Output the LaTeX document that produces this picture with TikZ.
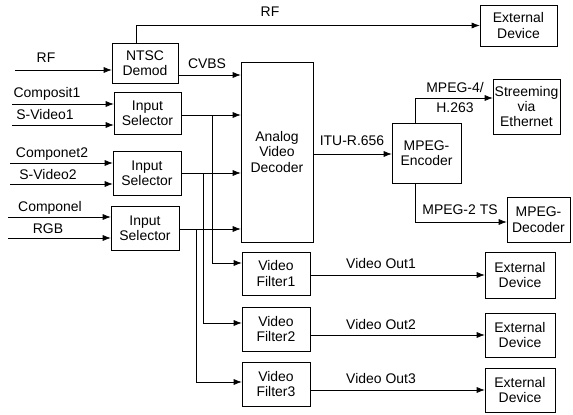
\documentclass[tikz,border=0pt]{standalone}
\usepackage{fontspec}
\setmainfont{Liberation Sans}
\usetikzlibrary{arrows.meta}

\begin{document}
\begin{tikzpicture}[x=1bp,y=-1bp,font=\fontsize{14}{15.5}\selectfont,
  line width=0.6pt,>={Latex[length=8bp,width=6bp]}]
\useasboundingbox (0,0) rectangle (573,414);
  \begin{scope}[every node/.style={draw, align=center, inner sep=1pt}]
  \node[minimum width=66bp, minimum height=40bp] (ntsc) at (145,63) {NTSC\\Demod};
  \node[minimum width=67bp, minimum height=42bp] (sel1) at (147.5,113) {Input\\Selector};
  \node[minimum width=68bp, minimum height=44bp] (sel2) at (147,173) {Input\\Selector};
  \node[minimum width=68bp, minimum height=44bp] (sel3) at (145,228) {Input\\Selector};
  \node[minimum width=72bp, minimum height=180bp] (dec) at (277,152) {Analog\\Video\\Decoder};
  \node[minimum width=68bp, minimum height=43bp] (filt1) at (276,273.5) {Video\\Filter1};
  \node[minimum width=68bp, minimum height=44bp] (filt2) at (276,329) {Video\\Filter2};
  \node[minimum width=68bp, minimum height=44bp] (filt3) at (276,384) {Video\\Filter3};
  \node[minimum width=77bp, minimum height=41bp] (ext0) at (518.5,25.5) {External\\Device};
  \node[minimum width=67bp, minimum height=55bp] (stream) at (526.5,106.5) {Streeming\\via\\Ethernet};
  \node[minimum width=69bp, minimum height=60bp] (enc) at (426.5,153) {MPEG-\\Encoder};
  \node[minimum width=63bp, minimum height=45bp] (mdec) at (538.5,219.5) {MPEG-\\Decoder};
  \node[minimum width=70bp, minimum height=46bp] (ext1) at (520,275) {External\\Device};
  \node[minimum width=70bp, minimum height=44bp] (ext2) at (520,335) {External\\Device};
  \node[minimum width=70bp, minimum height=44bp] (ext3) at (520,390) {External\\Device};
 \end{scope}
 \begin{scope}[every node/.style={inner sep=0pt}]
  \node (lrfin) at (46,58) {RF};
  \node (lrfout) at (270,12) {RF};
  \node (lcvbs) at (207,64) {CVBS};
  \node (lcomp1) at (47,94) {Composit1};
  \node (lsv1) at (45,115) {S-Video1};
  \node (lcomp2) at (52,154) {Componet2};
  \node (lsv2) at (48,175) {S-Video2};
  \node (lcomp3) at (50,208) {Componel};
  \node (lrgb) at (48,229) {RGB};
  \node (litu) at (352,141) {ITU-R.656};
  \node (lmp4) at (455,88) {MPEG-4/};
  \node (lh263) at (455,108) {H.263};
  \node (lmp2) at (460,210) {MPEG-2 TS};
  \node (lout1) at (381,264) {Video Out1};
  \node (lout2) at (381,325) {Video Out2};
  \node (lout3) at (381,379) {Video Out3};
 \end{scope}
  % inputs
  \coordinate (rfin) at (15,70);
  \coordinate (c1in) at (12,104);
  \coordinate (sv1in) at (12,125);
  \coordinate (c2in) at (10,163);
  \coordinate (sv2in) at (10,184);
  \coordinate (c3in) at (8,217);
  \coordinate (rgbin) at (8,238);
  \path [->] (rfin) edge (rfin -| ntsc.west);
  \path [->] (c1in) edge (c1in -| sel1.west);
  \path [->] (sv1in) edge (sv1in -| sel1.west);
  \path [->] (c2in) edge (c2in -| sel2.west);
  \path [->] (sv2in) edge (sv2in -| sel2.west);
  \path [->] (c3in) edge (c3in -| sel3.west);
  \path [->] (rgbin) edge (rgbin -| sel3.west);
  % demod
  \draw [->] ([xshift=-9bp]ntsc.north) |- (ext0.west);
  \path [->] (ntsc.east |- 0,75) edge (dec.west |- 0,75);
  % selectors to decoder and filters
  \coordinate (tap1) at (212,115);
  \coordinate (tap2) at (203,173);
  \coordinate (tap3) at (196,229);
  \path [->] (sel1.east |- tap1) edge (dec.west |- tap1);
  \path [->] (sel2.east |- tap2) edge (dec.west |- tap2);
  \path [->] (sel3.east |- tap3) edge (dec.west |- tap3);
  \draw [->] (tap1) |- (filt1.west |- 0,263);
  \draw [->] (tap2) |- (filt2.west |- 0,323);
  \draw [->] (tap3) |- (filt3.west |- 0,382);
  % encoder
  \path [->] (dec.east |- 0,154) edge (enc.west |- 0,154);
  \draw [->] ([xshift=-11.5bp]enc.north) |- (stream.west |- 0,98);
  \draw [->] ([xshift=-11.5bp]enc.south) |- (mdec.west |- 0,222);
  % outputs
  \path [->] (filt1.east |- ext1.west) edge (ext1.west);
  \path [->] (filt2.east |- ext2.west) edge (ext2.west);
  \path [->] (filt3.east |- ext3.west) edge (ext3.west);
\end{tikzpicture}
\end{document}
